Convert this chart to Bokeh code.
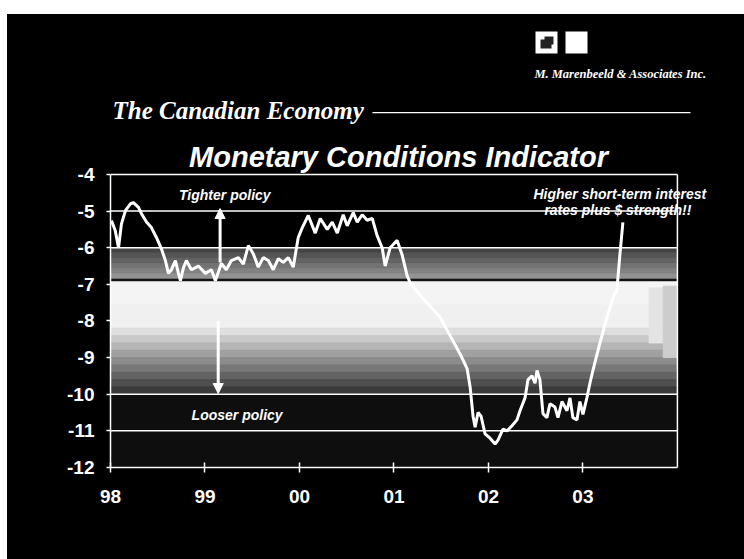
from bokeh.plotting import figure
from bokeh.models import (ColumnDataSource, Label, BoxAnnotation, Arrow, NormalHead,
                          FixedTicker)
from bokeh.embed import file_html
from bokeh.resources import INLINE

# ---- data ----
years = [1998.01, 1998.05, 1998.085, 1998.116, 1998.159, 1998.211, 1998.243, 1998.296,
         1998.328, 1998.381, 1998.433, 1998.486, 1998.539, 1998.581, 1998.613, 1998.645,
         1998.687, 1998.719, 1998.740, 1998.772, 1998.803, 1998.856, 1998.930, 1999.004,
         1999.068, 1999.110, 1999.173, 1999.226, 1999.279, 1999.353, 1999.406, 1999.459,
         1999.512, 1999.564, 1999.617, 1999.670, 1999.723, 1999.776, 1999.829, 1999.882,
         1999.934, 1999.987, 2000.030, 2000.093, 2000.167, 2000.220, 2000.294, 2000.347,
         2000.400, 2000.463, 2000.505, 2000.569, 2000.611, 2000.664, 2000.717, 2000.770,
         2000.822, 2000.875, 2000.907, 2000.960, 2001.034, 2001.087, 2001.140, 2001.171,
         2001.277, 2001.383, 2001.488, 2001.594, 2001.700, 2001.774, 2001.806, 2001.837,
         2001.859, 2001.890, 2001.922, 2001.964, 2002.017, 2002.070, 2002.101, 2002.154,
         2002.197, 2002.249, 2002.302, 2002.334, 2002.387, 2002.419, 2002.461, 2002.493,
         2002.514, 2002.545, 2002.577, 2002.619, 2002.651, 2002.704, 2002.736, 2002.778,
         2002.831, 2002.863, 2002.894, 2002.937, 2002.968, 2003.000, 2003.042, 2003.074,
         2003.106, 2003.180, 2003.254, 2003.328, 2003.359, 2003.391, 2003.423]
mci = [-5.26, -5.53, -6.00, -5.35, -4.98, -4.80, -4.77, -4.90,
       -5.07, -5.30, -5.45, -5.72, -6.03, -6.35, -6.70, -6.60,
       -6.35, -6.70, -6.90, -6.55, -6.35, -6.60, -6.50, -6.70,
       -6.60, -6.90, -6.43, -6.60, -6.35, -6.27, -6.45, -5.94,
       -6.17, -6.53, -6.27, -6.35, -6.60, -6.30, -6.40, -6.27,
       -6.53, -5.72, -5.45, -5.12, -5.60, -5.20, -5.50, -5.30,
       -5.60, -5.10, -5.40, -5.04, -5.30, -5.10, -5.25, -5.20,
       -5.67, -6.00, -6.50, -6.00, -5.80, -6.20, -6.77, -6.95,
       -7.30, -7.60, -7.90, -8.40, -8.90, -9.30, -9.80, -10.60,
       -10.90, -10.50, -10.60, -11.08, -11.20, -11.36, -11.25, -10.95,
       -11.00, -10.86, -10.70, -10.45, -10.10, -9.60, -9.50, -9.70,
       -9.35, -9.60, -10.53, -10.64, -10.26, -10.35, -10.64, -10.20,
       -10.45, -10.10, -10.64, -10.70, -10.20, -10.55, -10.10, -9.70,
       -9.35, -8.60, -7.90, -7.30, -7.17, -6.20, -5.31]

x_ticks = [1998, 1999, 2000, 2001, 2002, 2003]
x_tick_labels = ["98", "99", "00", "01", "02", "03"]
y_ticks = [-4, -5, -6, -7, -8, -9, -10, -11, -12]
y_tick_labels = ["-4", "-5", "-6", "-7", "-8", "-9", "-10", "-11", "-12"]
grid_values = [-4, -5, -6, -10, -11]

title_text = "Monetary Conditions Indicator"
slide_title = "The Canadian Economy"
firm_text = "M. Marenbeeld & Associates Inc."
tight_text = "Tighter policy"
loose_text = "Looser policy"
note_lines = ["Higher short-term interest", "rates plus $ strength!!"]

X0, X1 = 1998.0, 2004.0      # chart box
Y0, Y1 = -12.0, -4.0

SANS = "Liberation Sans"
SERIF = "Liberation Serif"

# frame covers the whole canvas right of / above the axes; the black slide and the
# white scan edges come from the page background
p = figure(width=744, height=559, output_backend="svg", toolbar_location=None,
           x_range=(1998.0, 2004.71), y_range=(-12.0, 0.75),
           min_border_left=110, min_border_right=0, min_border_top=0,
           min_border_bottom=92, background_fill_color=None,
           border_fill_color=None, outline_line_color=None)

# halftone-like shading of the scanned slide (stepped grey gradient)
def shade(y_hi, y_lo, g_hi, g_lo, n):
    tops, bots, cols = [], [], []
    for i in range(n):
        t = y_hi + (y_lo - y_hi) * i / n
        b = y_hi + (y_lo - y_hi) * (i + 1) / n
        g = int(round(g_hi + (g_lo - g_hi) * (i + 0.5) / n))
        tops.append(t); bots.append(b); cols.append("#%02x%02x%02x" % (g, g, g))
    return tops, bots, cols

T, B, C = [], [], []
for seg in (shade(-6.0, -6.86, 0x3c, 0x9a, 6), ([-6.86], [-6.93], ["#101010"]),
            shade(-6.93, -8.2, 0xf6, 0xee, 2), shade(-8.2, -10.0, 0xe8, 0x30, 9),
            shade(-10.0, -12.0, 0x12, 0x0a, 1)):
    T += seg[0]; B += seg[1]; C += seg[2]
bsrc = ColumnDataSource(dict(left=[X0] * len(T), right=[X1] * len(T), top=T, bottom=B, color=C))
p.quad(left="left", right="right", top="top", bottom="bottom", color="color",
       source=bsrc, level="image")
p.quad(left=[2003.70, 2003.85], right=[2003.85, X1], top=[-7.1, -7.05],
       bottom=[-8.6, -9.0], color=["#e4e4e4", "#cdcdcd"], level="image")

# grid lines and chart box
p.segment(x0=[X0] * len(grid_values), x1=[X1] * len(grid_values), y0=grid_values,
          y1=grid_values, line_color="#ffffff", line_width=1.5, level="underlay")
p.segment(x0=[X1], x1=[X1], y0=[Y0], y1=[Y1], line_color="#ffffff", line_width=1.5,
          level="underlay")

src = ColumnDataSource(dict(x=years, y=mci))
p.line("x", "y", source=src, line_color="#ffffff", line_width=3)

# axes
p.xaxis.ticker = FixedTicker(ticks=x_ticks)
p.xaxis.major_label_overrides = {t: l for t, l in zip(x_ticks, x_tick_labels)}
p.xaxis.bounds = (X0, X1)
p.yaxis.ticker = FixedTicker(ticks=y_ticks)
p.yaxis.major_label_overrides = {t: l for t, l in zip(y_ticks, y_tick_labels)}
p.yaxis.bounds = (Y0, Y1)
for ax in (p.xaxis[0], p.yaxis[0]):
    ax.axis_line_color = "#ffffff"
    ax.axis_line_width = 1.5
    ax.major_tick_line_color = "#ffffff"
    ax.major_tick_line_width = 1.5
    ax.minor_tick_line_color = None
    ax.major_label_text_color = "#ffffff"
    ax.major_label_text_font = SANS
    ax.major_label_text_font_style = "bold"
    ax.major_label_text_font_size = "19px"
p.xaxis.major_tick_in = 5
p.xaxis.major_tick_out = 5
p.xaxis.major_label_standoff = 17
p.yaxis.major_tick_in = 0
p.yaxis.major_tick_out = 4
p.yaxis.major_label_standoff = 12
p.xgrid.grid_line_color = None
p.ygrid.grid_line_color = None

# arrows
p.add_layout(Arrow(end=NormalHead(size=10, fill_color="#ffffff", line_color="#ffffff"),
                   x_start=1999.16, y_start=-6.40, x_end=1999.16, y_end=-4.93,
                   line_color="#ffffff", line_width=3))
p.add_layout(Arrow(end=NormalHead(size=10, fill_color="#ffffff", line_color="#ffffff"),
                   x_start=1999.14, y_start=-8.0, x_end=1999.14, y_end=-9.98,
                   line_color="#ffffff", line_width=3))

lab = dict(text_color="#ffffff", text_font=SANS, text_font_style="bold italic",
           text_align="center", text_baseline="middle")
p.add_layout(Label(x=1999.21, y=-4.57, text=tight_text, text_font_size="14px", **lab))
p.add_layout(Label(x=1999.34, y=-10.58, text=loose_text, text_font_size="14px", **lab))
p.add_layout(Label(x=2003.39, y=-4.52, text=note_lines[0], text_font_size="14px", **lab))
p.add_layout(Label(x=2003.37, y=-4.98, text=note_lines[1], text_font_size="14px", **lab))

# slide header (screen units: from frame left, upward from frame bottom)
p.add_layout(Label(x=288, y=311, x_units="screen", y_units="screen", text=title_text,
                   text_font_size="29px", **lab))
p.add_layout(Label(x=2, y=357, x_units="screen", y_units="screen", text=slide_title,
                   text_color="#ffffff", text_font=SERIF, text_font_style="bold italic",
                   text_font_size="25px", text_align="left", text_baseline="alphabetic"))
p.add_layout(Label(x=510, y=394, x_units="screen", y_units="screen", text=firm_text,
                   text_color="#ffffff", text_font=SERIF, text_font_style="bold italic",
                   text_font_size="12.5px", text_align="center", text_baseline="middle"))

def sbox(l, r, b, t, c):
    return BoxAnnotation(left=l, right=r, bottom=b, top=t, left_units="screen",
                         right_units="screen", bottom_units="screen", top_units="screen",
                         fill_color=c, fill_alpha=1.0, line_color=None, level="overlay")

p.add_layout(sbox(262, 580, 354.2, 355.6, "#ffffff"))      # underline
p.add_layout(sbox(425, 447, 414, 436, "#ffffff"))          # logo square 1
p.add_layout(sbox(430, 441, 419, 428, "#222222"))          # emblem
p.add_layout(sbox(434, 443, 423, 431, "#222222"))
p.add_layout(sbox(455, 477, 414, 436, "#ffffff"))          # logo square 2

html = file_html(p, INLINE)
html = html.replace("<head>", "<head><style>html,body{background:"
                    "linear-gradient(#fff,#fff) 0 0/100% 14px no-repeat,"
                    "linear-gradient(90deg,#fff 7px,#000 7px) !important;}</style>", 1)
open("out.html", "w").write(html)
